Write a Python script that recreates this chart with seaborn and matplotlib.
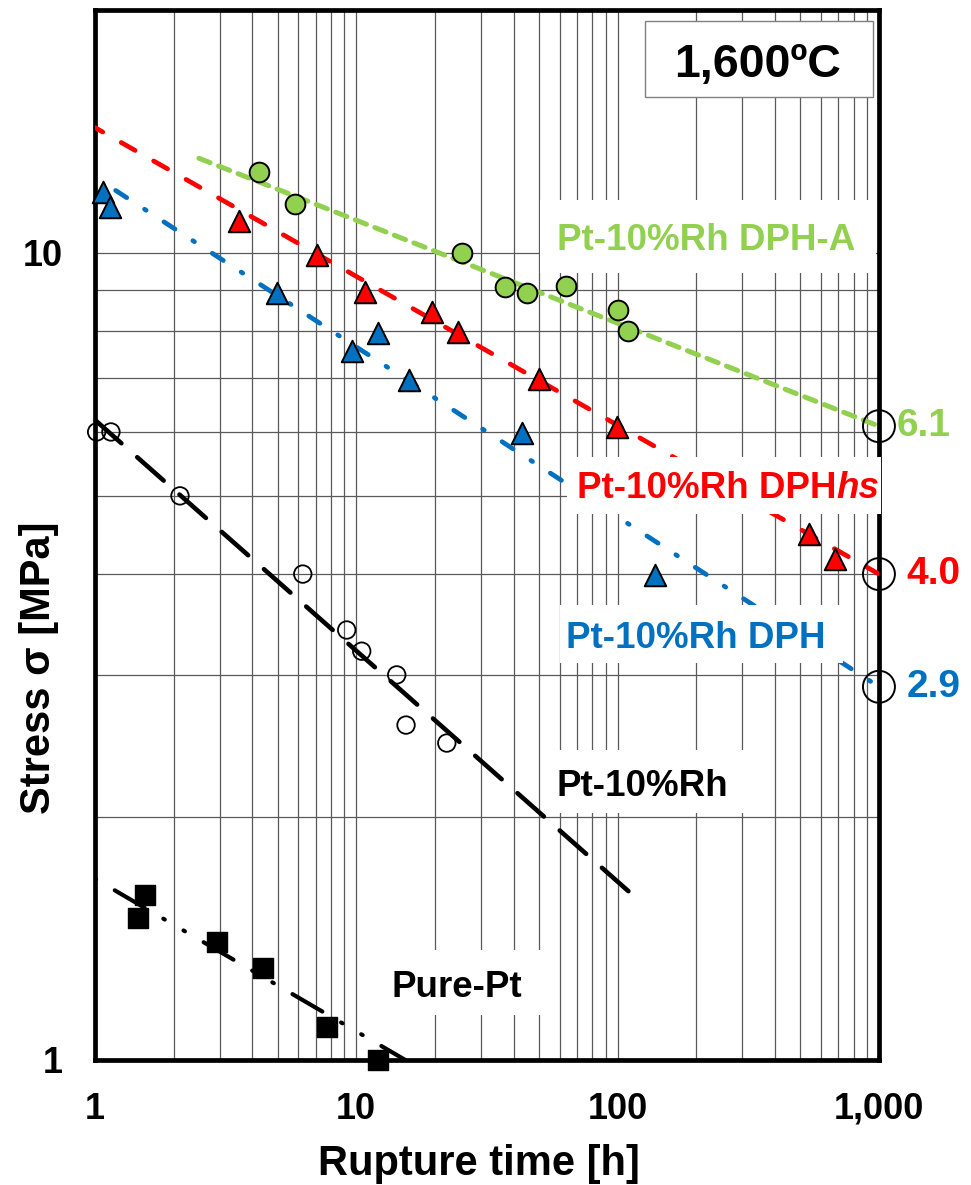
import matplotlib.pyplot as plt
import seaborn as sns
from matplotlib.patches import Rectangle
from matplotlib.ticker import NullFormatter

# creep rupture data at 1,600 C
dpha_time = [4.24, 5.82, 25.3, 37.1, 44.9, 63.5, 100.6, 109.9]
dpha_stress = [12.6, 11.5, 10.0, 9.08, 8.92, 9.10, 8.50, 8.00]

dphhs_time = [3.56, 7.06, 10.8, 19.5, 24.4, 50.2, 99.7, 541, 679]
dphhs_stress = [10.94, 9.94, 8.94, 8.46, 7.97, 6.98, 6.09, 4.49, 4.18]

dph_time = [1.076, 1.14, 4.99, 9.65, 12.08, 15.95, 42.9, 139]
dph_stress = [11.9, 11.41, 8.93, 7.55, 7.95, 6.96, 5.98, 3.99]

ptrh_time = [1.015, 1.151, 2.115, 6.24, 9.19, 10.49, 14.28, 15.5, 22.2]
ptrh_stress = [6.0, 6.0, 5.0, 4.0, 3.41, 3.21, 3.0, 2.60, 2.47]

pt_time = [1.553, 1.465, 2.94, 4.41, 7.70, 12.08]
pt_stress = [1.60, 1.50, 1.40, 1.30, 1.10, 1.0]

# fitted lines (end points)
dpha_fit_t, dpha_fit_s = [2.5, 1000], [13.1, 6.1]
dphhs_fit_t, dphhs_fit_s = [1, 1000], [14.3, 4.0]
dph_fit_t, dph_fit_s = [1.2, 1000], [11.95, 2.9]
ptrh_fit_t, ptrh_fit_s = [1, 124], [6.21, 1.564]
pt_fit_t, pt_fit_s = [1, 15.4], [1.677, 1.0]

# 1000 h rupture strength
t_1000 = [1000, 1000, 1000]
s_1000 = [6.1, 4.0, 2.9]
s_1000_labels = ['6.1', '4.0', '2.9']

xticks = [1, 10, 100, 1000]
xticklabels = ['1', '10', '100', '1,000']
yticks = [1, 10]
yticklabels = ['1', '10']

GREEN = '#92D050'
RED = '#FF0000'
BLUE = '#0070C0'

sns.set_style('white')
plt.rcParams['font.family'] = ['Liberation Sans', 'DejaVu Sans']
plt.rcParams['text.color'] = 'black'
plt.rcParams['axes.labelcolor'] = 'black'
plt.rcParams['xtick.color'] = 'black'
plt.rcParams['ytick.color'] = 'black'

fig = plt.figure(figsize=(9.71, 11.85), dpi=100)
ax = fig.add_axes([0.0978, 0.1055, 0.8074, 0.8861])
ax.set_xscale('log')
ax.set_yscale('log')
ax.set_xlim(1, 1000)
ax.set_ylim(1, 20)

# fit lines
sns.lineplot(x=dpha_fit_t, y=dpha_fit_s, ax=ax, color=GREEN, lw=3.6,
             linestyle=(0, (2.4, 1.8)), dash_capstyle='round', zorder=3)
sns.lineplot(x=dphhs_fit_t, y=dphhs_fit_s, ax=ax, color=RED, lw=3.4,
             linestyle=(1.5, (3.4, 4.5)), dash_capstyle='round', zorder=3)
sns.lineplot(x=dph_fit_t, y=dph_fit_s, ax=ax, color=BLUE, lw=3.4,
             linestyle=(0, (2.8, 4.5, 0.4, 4.5)), dash_capstyle='round', zorder=3)
sns.lineplot(x=ptrh_fit_t, y=ptrh_fit_s, ax=ax, color='black', lw=3.3,
             linestyle=(0, (7.7, 4.6)), dash_capstyle='round', zorder=3)
sns.lineplot(x=pt_fit_t, y=pt_fit_s, ax=ax, color='black', lw=3.0,
             linestyle=(19.2, (8.3, 5.2, 0.4, 5.2, 0.4, 5.2)),
             dash_capstyle='round', zorder=3)

# data points
sns.scatterplot(x=dpha_time, y=dpha_stress, ax=ax, marker='o', s=14.2 ** 2,
                color=GREEN, edgecolor='black', linewidth=1.4, zorder=6, clip_on=False)
sns.scatterplot(x=dphhs_time, y=dphhs_stress, ax=ax, marker='^', s=15.5 ** 2,
                color=RED, edgecolor='black', linewidth=1.4, zorder=6, clip_on=False)
sns.scatterplot(x=dph_time, y=dph_stress, ax=ax, marker='^', s=15.5 ** 2,
                color=BLUE, edgecolor='black', linewidth=1.4, zorder=6, clip_on=False)
sns.scatterplot(x=ptrh_time, y=ptrh_stress, ax=ax, marker='o', s=12.6 ** 2,
                color='none', edgecolor='black', linewidth=1.3, zorder=6, clip_on=False)
sns.scatterplot(x=pt_time, y=pt_stress, ax=ax, marker='s', s=14.5 ** 2,
                color='black', edgecolor='black', linewidth=1, zorder=6, clip_on=False)
sns.scatterplot(x=t_1000, y=s_1000, ax=ax, marker='o', s=23 ** 2,
                color='none', edgecolor='black', linewidth=1.4, zorder=6, clip_on=False)

for val, lab, col, off in zip(s_1000, s_1000_labels, [GREEN, RED, BLUE], [13, 20, 20]):
    ax.annotate(lab, xy=(1000, val), xytext=(off, 0), textcoords='offset points',
                ha='left', va='center', fontsize=28, fontweight='bold', color=col,
                annotation_clip=False)

# white label boxes (they hide the grid like in the original)
boxes = [(0.5676, 0.7495, 0.4286, 0.0695), (0.602, 0.520, 0.400, 0.0543),
         (0.5931, 0.3781, 0.361, 0.0552), (0.574, 0.2352, 0.2615, 0.060),
         (0.3571, 0.0429, 0.2207, 0.0619)]
for x0, y0, w, h in boxes:
    ax.add_patch(Rectangle((x0, y0), w, h, transform=ax.transAxes, facecolor='white',
                           edgecolor='none', zorder=4.5, clip_on=False))

lab_kw = dict(transform=ax.transAxes, fontsize=26.5, fontweight='bold',
              ha='left', va='baseline', zorder=5)
ax.text(0.5889, 0.7714, 'Pt-10%Rh DPH-A', color=GREEN, **lab_kw)
t_hs = ax.text(0.6144, 0.5350, 'Pt-10%Rh DPH', color=RED, **lab_kw)
ax.annotate('hs', xy=(1, 0), xycoords=t_hs, ha='left', va='bottom', fontsize=26.5,
            fontweight='bold', fontstyle='italic', color=RED, zorder=5)
ax.text(0.6008, 0.3921, 'Pt-10%Rh DPH', color=BLUE, **lab_kw)
ax.text(0.5889, 0.2514, 'Pt-10%Rh', color='black', **lab_kw)
ax.text(0.3784, 0.0603, 'Pure-Pt', color='black', **lab_kw)

# temperature box
ax.add_patch(Rectangle((0.7015, 0.917), 0.2908, 0.0725, transform=ax.transAxes,
                       facecolor='white', edgecolor='#808080', lw=1, zorder=4.5))
ax.text(0.8457, 0.9365, '1,600ºC', transform=ax.transAxes, fontsize=33.5,
        fontweight='bold', color='black', ha='center', va='baseline', zorder=5)

# axes styling
ax.set_xticks(xticks, xticklabels, fontsize=26, fontweight='bold')
ax.set_yticks(yticks, yticklabels, fontsize=26, fontweight='bold')
ax.xaxis.set_minor_formatter(NullFormatter())
ax.yaxis.set_minor_formatter(NullFormatter())
ax.tick_params(which='major', direction='inout', length=15.8, width=1.5, pad=15,
               colors='black')
ax.tick_params(which='minor', length=0)
ax.set_axisbelow(True)
ax.grid(True, which='both', color='#595959', lw=0.9)
for sp in ax.spines.values():
    sp.set_linewidth(3.4)
    sp.set_color('black')

ax.set_xlabel('Rupture time [h]', fontsize=30, fontweight='bold', color='black')
ax.xaxis.set_label_coords(0.49, -0.1095)
ax.xaxis.label.set_va('baseline')
ax.set_ylabel('Stress σ [MPa]', fontsize=30, fontweight='bold', color='black')
ax.yaxis.set_label_coords(-0.0574, 0.374)
ax.yaxis.label.set_va('baseline')

fig.savefig('out.png', dpi=100)
